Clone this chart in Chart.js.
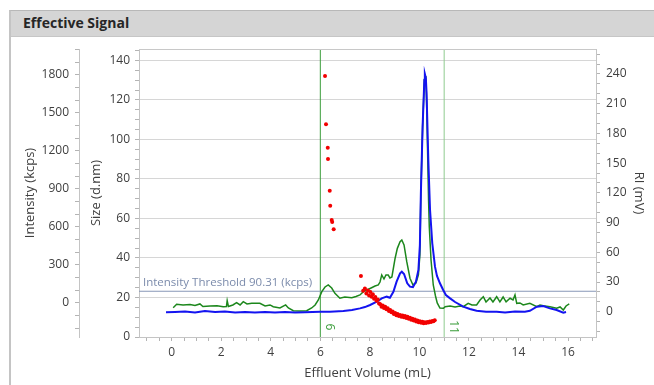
<!DOCTYPE html>
<html>
<head>
<meta charset="utf-8">
<title>Effective Signal</title>
<script src="https://cdn.jsdelivr.net/npm/chart.js@4.4.1/dist/chart.umd.min.js"></script>
<style>
  html, body { margin: 0; padding: 0; background: #fff; width: 654px; height: 385px; overflow: hidden; font-family: 'Open Sans', sans-serif; }
  #panel { position: absolute; left: 9px; top: 10px; width: 643px; height: 380px; border-left: 2px solid #c4c4c4; border-top: 1px solid #b8b8b8; }
  #header { height: 25px; background: #d5d5d5; border-bottom: 1px solid #c6c6c6; }
  #header span { position: absolute; left: 12px; top: 2px; font-weight: bold; font-size: 14px; color: #262626; }
  #chart { position: absolute; left: 12px; top: 37px; }
</style>
</head>
<body>
<div id="panel"><div id="header"><span>Effective Signal</span></div></div>
<canvas id="chart" width="642" height="348"></canvas>
<script>
// light scattering intensity (kcps), green trace
const lsVolume = [0.06,0.20,0.46,0.74,0.94,1.14,1.26,1.55,1.83,2.08,2.21,2.24,2.29,2.47,2.62,2.76,2.89,3.04,3.23,3.43,3.56,3.77,3.97,4.10,4.37,4.60,4.71,4.91,5.18,5.45,5.65,5.79,5.92,6.06,6.19,6.32,6.46,6.59,6.79,6.99,7.27,7.44,7.60,7.74,7.88,8.07,8.21,8.34,8.41,8.48,8.57,8.65,8.74,8.81,8.89,9.02,9.11,9.22,9.29,9.38,9.49,9.62,9.74,9.86,9.96,10.02,10.06,10.13,10.20,10.23,10.26,10.29,10.33,10.37,10.40,10.47,10.56,10.65,10.72,10.83,10.97,11.04,11.24,11.44,11.64,11.77,11.97,12.12,12.31,12.45,12.58,12.69,12.85,12.97,13.12,13.25,13.38,13.50,13.66,13.78,13.86,13.93,14.06,14.19,14.46,14.74,14.87,15.00,15.27,15.54,15.68,15.81,15.92,16.05];
const lsIntensity = [-40,-13,-18,-14,-22,-10,-30,-26,-24,-32,-30,16,-30,-18,0,-18,8,-10,-5,-5,-5,-26,-18,-32,-42,-18,-42,-63,-66,-63,-42,-18,21,87,124,140,116,74,35,45,39,49,61,87,100,118,132,140,163,219,187,219,219,195,203,351,429,482,495,456,324,193,140,156,219,377,866,1387,1758,1790,1774,1600,1206,811,598,337,140,53,-2,-42,-44,-32,-26,-34,-26,-32,-5,-18,-18,21,47,6,37,6,47,6,45,6,35,21,61,-5,-2,-18,-5,-32,-18,-24,-32,-44,-34,-58,-26,-10];

// refractive index (mV), blue trace
const riVolume = [-0.23,0.13,0.54,0.94,1.34,1.75,2.15,2.56,2.96,3.36,3.77,4.17,4.57,4.98,5.38,5.99,6.39,6.93,7.28,7.60,7.80,8.01,8.28,8.48,8.68,8.81,8.95,9.08,9.22,9.29,9.38,9.51,9.62,9.74,9.86,9.96,10.02,10.06,10.13,10.20,10.22,10.26,10.29,10.36,10.43,10.52,10.63,10.71,10.83,10.96,11.07,11.24,11.44,11.77,12.04,12.31,12.69,13.12,13.46,13.86,14.26,14.46,14.74,15.00,15.27,15.54,15.81,15.92];
const riSignal = [-0.6,-0.3,0.2,-0.8,0.7,-0.3,0.2,-0.8,-0.3,-0.8,-0.3,-0.8,-0.3,-0.8,-0.6,0,0,0.7,1.7,3.4,4.7,6.8,10.1,13.5,15.2,14.1,20.2,30.3,38.8,40.4,38.1,28.7,25.3,24.9,30.3,42.1,67.4,119.9,186.9,234,240.1,236,220.6,153.2,102.7,69.1,45.5,36.1,28.7,21.9,16.9,13.5,9.8,5.1,2.7,1.0,0,0,-0.8,0.2,0,1.0,5.1,5.8,3.4,1.7,-1.0,-0.3];

// hydrodynamic size (d.nm), red points
const sizeVolume = [6.19,6.23,6.30,6.31,6.38,6.40,6.46,6.48,6.54,7.64,
  7.73,7.80,7.86,7.92,7.97,8.02,8.07,8.12,8.17,8.22,8.27,8.32,8.37,8.42,8.47,8.52,8.57,8.62,8.67,8.72,
  8.77,8.82,8.87,8.92,8.97,9.02,9.07,9.12,9.17,9.22,9.27,9.32,9.37,9.42,9.47,9.52,9.57,9.62,9.67,9.72,
  9.77,9.82,9.87,9.92,9.97,10.02,10.07,10.12,10.17,10.22,10.27,10.32,10.37,10.42,10.47,10.52,10.57,10.62];
const sizeDiameter = [132.1,107.7,95.8,90.1,74.1,66.5,59.2,58.2,54.5,30.9,
  23.4,24.5,22.0,23.6,21.0,22.8,20.4,21.6,19.4,20.2,18.3,19.0,17.0,16.6,15.3,16.0,14.7,15.3,14.0,14.6,
  13.1,13.7,12.5,12.9,11.7,12.2,11.0,11.6,10.6,11.2,10.3,10.9,10.0,10.6,9.6,10.2,9.2,9.8,8.7,9.3,
  8.3,8.9,7.9,8.4,7.5,8.0,7.2,7.7,7.0,7.5,7.1,7.6,7.3,7.8,7.6,8.1,8.0,8.5];

// integration limits and threshold
const markerVolumes = [6, 11];
const markerLabels = ['6', '11'];
const thresholdIntensity = 90.31;
const thresholdLabel = 'Intensity Threshold 90.31 (kcps)';

const X_MIN = -1.32, X_MAX = 17.13;
const tickFont = { family: "'Open Sans', sans-serif", size: 12 };
const titleFont = { family: "'Open Sans', sans-serif", size: 13 };
const markerColors = ['#3c9e3c', '#8fcb8f'];

function pairs(xs, ys) {
    return xs.map((x, i) => ({ x: x, y: ys[i] }));
}

function majorOnly(step) {
    return function(v) {
        const r = Math.round(v * 1000) / 1000;
        return Math.abs(r % step) < 1e-6 ? String(r) : '';
    };
}

function fixed(w, h) {
    return function(scale) {
        if (w) scale.width = w;
        if (h) scale.height = h;
        scale.paddingTop = 0;
        scale.paddingBottom = 0;
        scale.paddingLeft = 0;
        scale.paddingRight = 0;
    };
}

const annotate = {
    id: 'annotate',
    afterDatasetsDraw(chart) {
        const { ctx, chartArea, scales } = chart;
        ctx.save();
        // frame top edge
        ctx.strokeStyle = '#c8c8c8';
        ctx.lineWidth = 1;
        ctx.beginPath();
        ctx.moveTo(chartArea.left, chartArea.top + 0.5);
        ctx.lineTo(chartArea.right, chartArea.top + 0.5);
        ctx.stroke();

        // threshold caption
        const ty = scales.yInt.getPixelForValue(thresholdIntensity);
        ctx.font = "11.5px 'Open Sans', sans-serif";
        ctx.fillStyle = '#7b8bab';
        ctx.textAlign = 'left';
        ctx.textBaseline = 'middle';
        ctx.fillText(thresholdLabel, chartArea.left + 4, ty - 9);

        // limit labels, rotated
        markerVolumes.forEach((v, i) => {
            const x = scales.x.getPixelForValue(v);
            ctx.save();
            ctx.translate(x + 9, chartArea.bottom - 10);
            ctx.rotate(Math.PI / 2);
            ctx.font = "12px 'Open Sans', sans-serif";
            ctx.fillStyle = markerColors[0];
            ctx.textAlign = 'center';
            ctx.textBaseline = 'middle';
            ctx.fillText(markerLabels[i], 0, 0);
            ctx.restore();
        });
        ctx.restore();
    }
};

const datasets = [
    {
        label: 'Size',
        data: pairs(sizeVolume, sizeDiameter),
        yAxisID: 'ySize',
        showLine: false,
        pointRadius: 2,
        pointBorderWidth: 0,
        pointBackgroundColor: '#f20000',
        pointBorderColor: '#f20000'
    },
    {
        label: 'RI',
        data: pairs(riVolume, riSignal),
        yAxisID: 'yRI',
        showLine: true,
        borderColor: '#1414f0',
        borderWidth: 2,
        pointRadius: 0,
        tension: 0
    },
    {
        label: 'Intensity',
        data: pairs(lsVolume, lsIntensity),
        yAxisID: 'yInt',
        showLine: true,
        borderColor: '#1c871c',
        borderWidth: 1.5,
        pointRadius: 0,
        tension: 0
    },
    {
        label: 'Threshold',
        data: [{ x: X_MIN, y: thresholdIntensity }, { x: X_MAX, y: thresholdIntensity }],
        yAxisID: 'yInt',
        showLine: true,
        borderColor: '#8797b7',
        borderWidth: 1.2,
        pointRadius: 0
    }
];

markerVolumes.forEach((v, i) => {
    datasets.push({
        label: 'Limit ' + markerLabels[i],
        data: [{ x: v, y: 0 }, { x: v, y: 146 }],
        yAxisID: 'ySize',
        showLine: true,
        borderColor: markerColors[i],
        borderWidth: 1,
        pointRadius: 0
    });
});

new Chart(document.getElementById('chart'), {
    type: 'scatter',
    data: { datasets: datasets },
    plugins: [annotate],
    options: {
        responsive: false,
        animation: false,
        layout: { padding: { top: 12, left: 0, right: 0, bottom: 0 } },
        plugins: { legend: { display: false }, tooltip: { enabled: false } },
        scales: {
            x: {
                type: 'linear',
                position: 'bottom',
                min: X_MIN,
                max: X_MAX,
                afterFit: fixed(0, 48),
                ticks: { stepSize: 0.5, includeBounds: false, autoSkip: false, maxRotation: 0, padding: 4, color: '#404040', font: tickFont, callback: majorOnly(2) },
                grid: { drawOnChartArea: false, tickLength: 4, tickColor: '#b4b4b4' },
                border: { color: '#c4c4c4' },
                title: { display: true, text: 'Effluent Volume (mL)', color: '#404040', font: titleFont, padding: { top: 0, bottom: 4 } }
            },
            yInt: {
                type: 'linear',
                position: 'left',
                weight: 1,
                min: -271,
                max: 2003,
                afterFit: fixed(67, 0),
                ticks: { stepSize: 100, includeBounds: false, autoSkip: false, padding: 6, color: '#404040', font: tickFont, callback: majorOnly(300) },
                grid: { drawOnChartArea: false, tickLength: 4, tickColor: '#b4b4b4' },
                border: { color: '#c4c4c4' },
                title: { display: true, text: 'Intensity (kcps)', color: '#404040', font: titleFont, padding: { top: 10, bottom: 0 } }
            },
            ySize: {
                type: 'linear',
                position: 'left',
                weight: 0,
                min: 0,
                max: 145.8,
                afterFit: fixed(60, 0),
                ticks: { stepSize: 5, includeBounds: false, autoSkip: false, padding: 5, color: '#404040', font: tickFont, callback: majorOnly(20) },
                grid: {
                    tickLength: 4,
                    tickColor: '#b4b4b4',
                    color: c => (c.tick && Math.abs(c.tick.value % 20) < 1e-6 ? '#d6d6d6' : 'rgba(0,0,0,0)')
                },
                border: { color: '#c4c4c4' },
                title: { display: true, text: 'Size (d.nm)', color: '#404040', font: titleFont, padding: { top: 9, bottom: 0 } }
            },
            yRI: {
                type: 'linear',
                position: 'right',
                min: -25.5,
                max: 265.2,
                afterFit: fixed(58, 0),
                ticks: { stepSize: 10, includeBounds: false, autoSkip: false, padding: 6, color: '#404040', font: tickFont, callback: majorOnly(30) },
                grid: { drawOnChartArea: false, tickLength: 4, tickColor: '#b4b4b4' },
                border: { color: '#c4c4c4' },
                title: { display: true, text: 'RI (mV)', color: '#404040', font: titleFont, padding: { top: 7, bottom: 0 } }
            }
        }
    }
});
</script>
</body>
</html>
